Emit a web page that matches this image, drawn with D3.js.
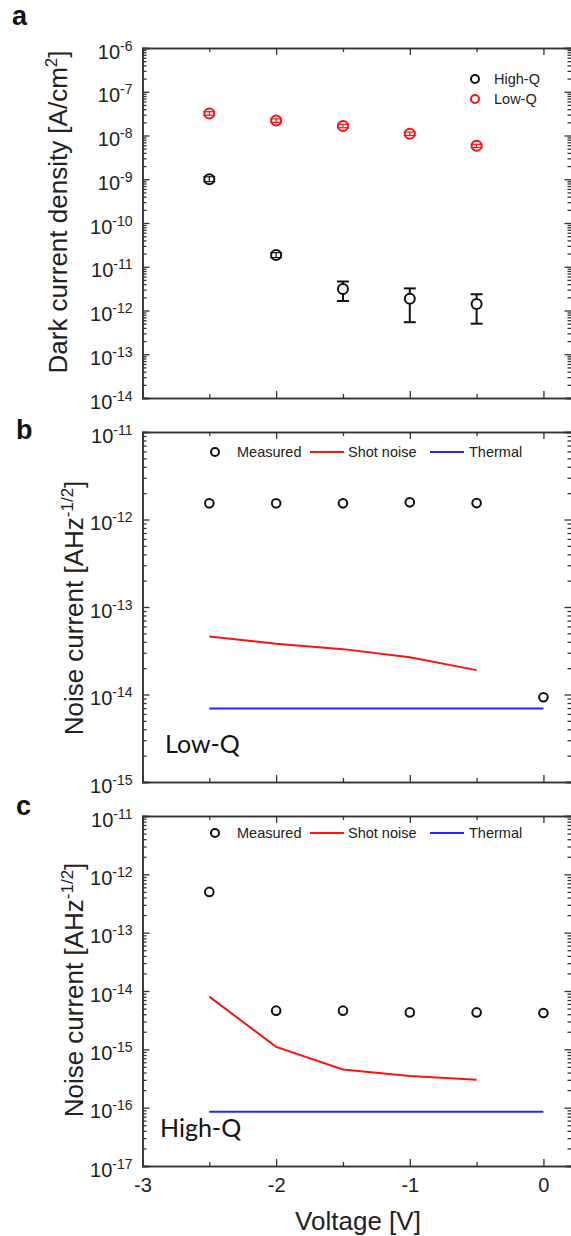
<!DOCTYPE html>
<html>
<head>
<meta charset="utf-8">
<script src="https://cdn.jsdelivr.net/npm/d3@7"></script>
<style>
  body { margin: 0; background: #fff; }
  svg { display: block; font-family: "Liberation Sans", Arial, sans-serif; }
</style>
</head>
<body>
<div id="chart"></div>
<script>
// ***Data***
var voltages = [-2.5, -2, -1.5, -1, -0.5];
var noiseVoltages = [-2.5, -2, -1.5, -1, -0.5, 0];

// panel a: dark current density [A/cm2]
var darkHighQ   = [1.0e-9, 1.85e-11, 3.1e-12, 1.85e-12, 1.4e-12];
var darkHighQLo = [0.88e-9, 1.62e-11, 1.65e-12, 5.4e-13, 5.0e-13];
var darkHighQHi = [1.14e-9, 2.1e-11, 4.6e-12, 3.2e-12, 2.35e-12];
var darkLowQ    = [3.2e-8, 2.2e-8, 1.65e-8, 1.1e-8, 5.8e-9];
var darkLowQLo  = [2.9e-8, 2.0e-8, 1.5e-8, 1.0e-8, 5.3e-9];
var darkLowQHi  = [3.5e-8, 2.4e-8, 1.8e-8, 1.2e-8, 6.3e-9];

// panel b: Low-Q noise current
var lowQMeasured = [1.53e-12, 1.53e-12, 1.53e-12, 1.57e-12, 1.54e-12, 9.3e-15];
var lowQShot     = [4.6e-14, 3.8e-14, 3.3e-14, 2.66e-14, 1.9e-14];
var lowQThermal  = [6.9e-15, 6.9e-15, 6.9e-15, 6.9e-15, 6.9e-15, 6.9e-15];

// panel c: High-Q noise current
var highQMeasured = [5.0e-13, 4.6e-15, 4.6e-15, 4.3e-15, 4.3e-15, 4.2e-15];
var highQShot     = [8.0e-15, 1.1e-15, 4.5e-16, 3.5e-16, 3.0e-16];
var highQThermal  = [8.5e-17, 8.5e-17, 8.5e-17, 8.5e-17, 8.5e-17, 8.5e-17];

var xTicks = [-3, -2, -1, 0];
var xMinorTicks = [-2.5, -1.5, -0.5];

function init() {
	var w = 571;
	var h = 1236;
	var left = 142.5, right = 571.5;
	var axisColor = "#333";

	var svg = d3.select("#chart")
				.append("svg")
				.attr("width", w)
				.attr("height", h);

	var xScale = d3.scaleLinear()
				.domain([-3, 0.21])
				.range([left, right]);

	function decades(lo, hi) {
		var out = [];
		for (var e = lo; e <= hi; e++) out.push(e);
		return out;
	}

	function minorTicks(lo, hi) {
		var out = [];
		for (var e = lo; e < hi; e++) {
			for (var k = 2; k <= 9; k++) out.push(k * Math.pow(10, e));
		}
		return out;
	}

	// draw a framed log panel, returns y scale
	function panel(top, bottom, eLo, eHi, showX) {
		var yScale = d3.scaleLog()
				.domain([Math.pow(10, eLo), Math.pow(10, eHi)])
				.range([bottom, top]);
		var major = decades(eLo, eHi).map(function(e) { return Math.pow(10, e); });
		var minor = minorTicks(eLo, eHi);
		var g = svg.append("g");

		// left axis with labels
		var yAxis = d3.axisLeft(yScale)
				.tickValues(major)
				.tickSize(-7)
				.tickPadding(10)
				.tickFormat("");
		var ya = g.append("g")
				.attr("transform", "translate(" + left + ",0)")
				.call(yAxis);
		ya.selectAll(".tick text")
			.attr("font-size", 20)
			.attr("fill", "#222")
			.attr("dy", "0.5em")
			.each(function(d) {
				var t = d3.select(this);
				var e = Math.round(Math.log10(d));
				t.append("tspan").text("10");
				t.append("tspan").attr("font-size", 14).attr("dy", -8).text(e);
			});
		g.append("g")
			.attr("transform", "translate(" + left + ",0)")
			.call(d3.axisLeft(yScale).tickValues(minor).tickSize(-4).tickFormat(""));

		// right axis
		g.append("g")
			.attr("transform", "translate(" + right + ",0)")
			.call(d3.axisRight(yScale).tickValues(major).tickSize(-7).tickFormat(""));
		g.append("g")
			.attr("transform", "translate(" + right + ",0)")
			.call(d3.axisRight(yScale).tickValues(minor).tickSize(-4).tickFormat(""));

		// bottom axis
		var xAxis = d3.axisBottom(xScale)
				.tickValues(xTicks)
				.tickSize(-7)
				.tickPadding(12)
				.tickFormat(function(d) { return showX ? String(d).replace("\u2212", "-") : ""; });
		var xa = g.append("g")
			.attr("transform", "translate(0," + bottom + ")")
			.call(xAxis);
		xa.selectAll(".tick text").attr("font-size", 20).attr("fill", "#222");
		g.append("g")
			.attr("transform", "translate(0," + bottom + ")")
			.call(d3.axisBottom(xScale).tickValues(xMinorTicks).tickSize(-4).tickFormat(""));

		// top axis
		g.append("g")
			.attr("transform", "translate(0," + top + ")")
			.call(d3.axisTop(xScale).tickValues(xTicks).tickSize(-7).tickFormat(""));
		g.append("g")
			.attr("transform", "translate(0," + top + ")")
			.call(d3.axisTop(xScale).tickValues(xMinorTicks).tickSize(-4).tickFormat(""));

		g.selectAll(".domain").attr("stroke", axisColor).attr("stroke-width", 1.5);
		g.selectAll(".tick line").attr("stroke", axisColor).attr("stroke-width", 1.3);
		return yScale;
	}

	function yTitle(x, y, parts) {
		var t = svg.append("text")
			.attr("transform", "translate(" + x + "," + y + ") rotate(-90)")
			.attr("text-anchor", "middle")
			.attr("font-size", 26)
			.attr("fill", "#222");
		parts.forEach(function(p) {
			var s = t.append("tspan").text(p[0]);
			if (p[1] == "sup") s.attr("font-size", 17).attr("dy", -10);
			if (p[1] == "down") s.attr("dy", 10);
		});
	}

	function panelLetter(x, y, txt) {
		svg.append("text")
			.attr("x", x).attr("y", y)
			.attr("font-size", 27)
			.attr("font-weight", "bold")
			.attr("fill", "#111")
			.text(txt);
	}

	function circles(yScale, xs, ys, color, r) {
		svg.append("g")
			.selectAll("circle")
			.data(xs.map(function(v, i) { return [v, ys[i]]; }))
			.enter()
			.append("circle")
			.attr("cx", function(d) { return xScale(d[0]); })
			.attr("cy", function(d) { return yScale(d[1]); })
			.attr("r", r)
			.attr("fill", "#fff")
			.attr("stroke", color)
			.attr("stroke-width", 2);
	}

	function errorBars(yScale, xs, ys, lo, hi, color, r) {
		var g = svg.append("g").attr("stroke", color).attr("stroke-width", 2);
		xs.forEach(function(v, i) {
			var cx = xScale(v), cy = yScale(ys[i]);
			var yt = yScale(hi[i]), yb = yScale(lo[i]);
			if (yt < cy - r) g.append("line").attr("x1", cx).attr("x2", cx).attr("y1", yt).attr("y2", cy - r);
			if (yb > cy + r) g.append("line").attr("x1", cx).attr("x2", cx).attr("y1", cy + r).attr("y2", yb);
			if (yt >= cy - r && yb <= cy + r)
				g.append("line").attr("x1", cx).attr("x2", cx).attr("y1", yt).attr("y2", yb).attr("stroke-width", 1.2);
			[yt, yb].forEach(function(yy) {
				g.append("line").attr("x1", cx - 6).attr("x2", cx + 6).attr("y1", yy).attr("y2", yy)
					.attr("stroke-width", yy > cy - r && yy < cy + r ? 1.2 : 2);
			});
		});
	}

	function line(yScale, xs, ys, color) {
		svg.append("path")
			.datum(xs.map(function(v, i) { return [v, ys[i]]; }))
			.attr("fill", "none")
			.attr("stroke", color)
			.attr("stroke-width", 2)
			.attr("d", d3.line()
				.x(function(d) { return xScale(d[0]); })
				.y(function(d) { return yScale(d[1]); }));
	}

	function noiseLegend(y) {
		var g = svg.append("g").attr("font-size", 14.5).attr("fill", "#222");
		g.append("circle").attr("cx", 215).attr("cy", y).attr("r", 4)
			.attr("fill", "#fff").attr("stroke", "#111").attr("stroke-width", 2);
		g.append("text").attr("x", 237).attr("y", y + 5).text("Measured");
		g.append("line").attr("x1", 310).attr("x2", 344).attr("y1", y).attr("y2", y)
			.attr("stroke", "#ff1010").attr("stroke-width", 2);
		g.append("text").attr("x", 348).attr("y", y + 5).text("Shot noise");
		g.append("line").attr("x1", 430).attr("x2", 464).attr("y1", y).attr("y2", y)
			.attr("stroke", "#2424ff").attr("stroke-width", 2);
		g.append("text").attr("x", 469).attr("y", y + 5).text("Thermal");
	}

	// ***Panel a***
	var yA = panel(48, 398, -14, -6, false);
	panelLetter(12, 25, "a");
	yTitle(67, 212, [["Dark current density [A/cm"], ["2", "sup"], ["]", "down"]]);
	circles(yA, voltages, darkHighQ, "#111", 5);
	errorBars(yA, voltages, darkHighQ, darkHighQLo, darkHighQHi, "#111", 5);
	circles(yA, voltages, darkLowQ, "#ff1010", 5);
	errorBars(yA, voltages, darkLowQ, darkLowQLo, darkLowQHi, "#ff1010", 5);
	var lg = svg.append("g").attr("font-size", 14.5).attr("fill", "#222");
	lg.append("circle").attr("cx", 475).attr("cy", 79).attr("r", 4)
		.attr("fill", "#fff").attr("stroke", "#111").attr("stroke-width", 2);
	lg.append("text").attr("x", 494).attr("y", 84).text("High-Q");
	lg.append("circle").attr("cx", 475).attr("cy", 99).attr("r", 4)
		.attr("fill", "#fff").attr("stroke", "#ff1010").attr("stroke-width", 2);
	lg.append("text").attr("x", 494).attr("y", 104).text("Low-Q");

	// ***Panel b***
	var yB = panel(432, 782, -15, -11, false);
	panelLetter(16, 439, "b");
	yTitle(83, 608, [["Noise current [AHz"], ["-1/2", "sup"], ["]", "down"]]);
	line(yB, noiseVoltages, lowQThermal, "#2424ff");
	line(yB, voltages, lowQShot, "#ff1010");
	circles(yB, noiseVoltages, lowQMeasured, "#111", 4.3);
	noiseLegend(452);
	svg.append("text").attr("x", 165).attr("y", 753)
		.attr("font-family", "Lato, 'Open Sans', sans-serif")
		.attr("font-size", 25).attr("fill", "#111").text("Low-Q");

	// ***Panel c***
	var yC = panel(816, 1166, -17, -11, true);
	panelLetter(16, 815, "c");
	yTitle(83, 990, [["Noise current [AHz"], ["-1/2", "sup"], ["]", "down"]]);
	line(yC, noiseVoltages, highQThermal, "#2424ff");
	line(yC, voltages, highQShot, "#ff1010");
	circles(yC, noiseVoltages, highQMeasured, "#111", 4.3);
	noiseLegend(833);
	svg.append("text").attr("x", 160).attr("y", 1137)
		.attr("font-family", "Lato, 'Open Sans', sans-serif")
		.attr("font-size", 25).attr("fill", "#111").text("High-Q");

	svg.append("text")
		.attr("x", 358).attr("y", 1230)
		.attr("text-anchor", "middle")
		.attr("font-size", 26)
		.attr("fill", "#222")
		.text("Voltage [V]");
}

window.onload = init;
</script>
</body>
</html>
